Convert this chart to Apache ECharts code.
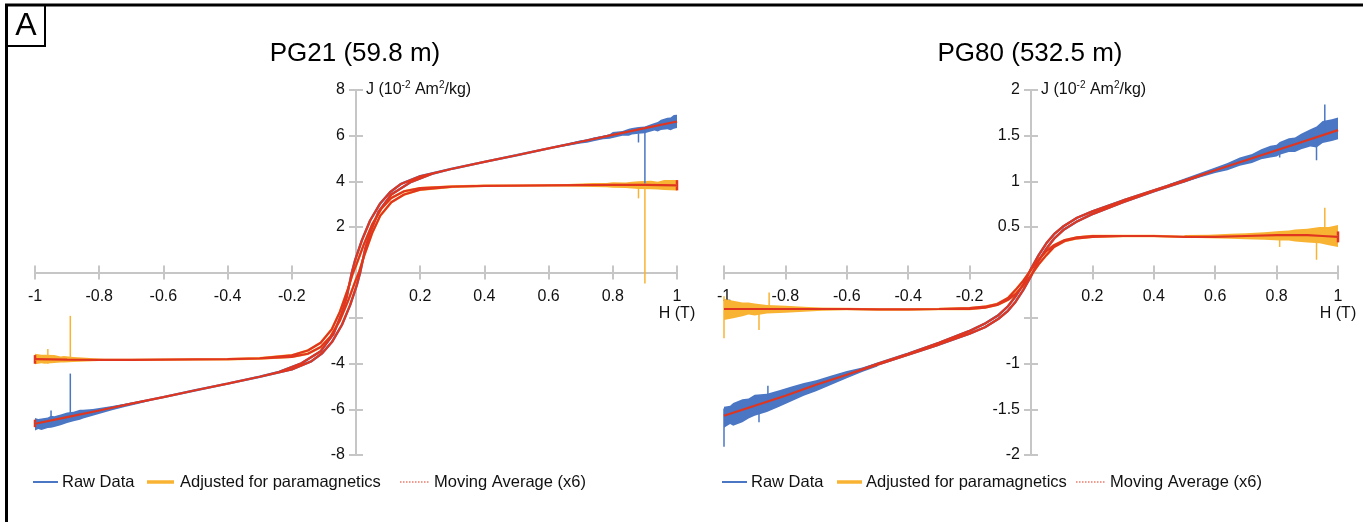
<!DOCTYPE html>
<html>
<head>
<meta charset="utf-8">
<script src="https://cdn.jsdelivr.net/npm/echarts@6/dist/echarts.min.js"></script>
<style>
  html, body { margin: 0; padding: 0; background: #fff; }
  #chart { width: 1363px; height: 522px; }
</style>
</head>
<body>
<div id="chart"></div>
<script>
// ---- labels ----
const panelTitles = ['PG21 (59.8 m)', 'PG80 (532.5 m)'];
const seriesNames = ['Raw Data', 'Adjusted for paramagnetics', 'Moving Average (x6)'];
const xAxisTitle = 'H (T)';
const yAxisTitle = 'J (10{sup|-2} Am{sup|2}/kg)';
const xScale = [-1, 1, 0.2];                 // min, max, step
const yScales = [[-8, 8, 2], [-2, 2, 0.5]];  // per panel
const yLabelsOmitted = [[0, -2], [0, -0.5]];

// ---- PG21 loop: [H (T), J (1e-2 Am2/kg)] ----
const pg21RawDown = [[1.0,6.62],[0.9,6.33],[0.8,6.03],[0.7,5.73],[0.6,5.44],[0.5,5.14],[0.4,4.85],[0.3,4.55],[0.2,4.22],[0.14,3.88],[0.106,3.52],[0.075,3.02],[0.044,2.28],[0.018,1.4],[-0.003,0.53],[-0.013,0],[-0.029,-1.08],[-0.045,-1.81],[-0.07,-2.69],[-0.11,-3.45],[-0.17,-3.98],[-0.24,-4.36],[-0.3,-4.57],[-0.4,-4.87],[-0.5,-5.16],[-0.6,-5.46],[-0.7,-5.75],[-0.8,-6.05],[-0.9,-6.34],[-1.0,-6.63]];
const pg21RawUp = [[-1.0,-6.63],[-0.9,-6.34],[-0.8,-6.05],[-0.7,-5.75],[-0.6,-5.46],[-0.5,-5.16],[-0.4,-4.87],[-0.3,-4.57],[-0.2,-4.25],[-0.14,-3.9],[-0.106,-3.55],[-0.075,-3.05],[-0.044,-2.3],[-0.018,-1.42],[0.003,-0.53],[0.013,0],[0.029,1.06],[0.045,1.78],[0.07,2.66],[0.11,3.42],[0.17,3.96],[0.24,4.34],[0.3,4.55],[0.4,4.85],[0.5,5.14],[0.6,5.44],[0.7,5.73],[0.8,6.03],[0.9,6.33],[1.0,6.62]];
const pg21AdjDown = [[1.0,3.82],[0.9,3.84],[0.8,3.84],[0.7,3.83],[0.6,3.82],[0.5,3.81],[0.4,3.8],[0.3,3.77],[0.2,3.7],[0.15,3.56],[0.11,3.27],[0.08,2.82],[0.05,2.1],[0.025,1.25],[0.0,0.3],[-0.009,0],[-0.025,-0.72],[-0.05,-1.72],[-0.075,-2.48],[-0.11,-3.08],[-0.15,-3.42],[-0.2,-3.63],[-0.3,-3.76],[-0.4,-3.8],[-0.5,-3.81],[-0.6,-3.82],[-0.7,-3.83],[-0.8,-3.83],[-0.9,-3.82],[-1.0,-3.8]];
const pg21AdjUp = [[-1.0,-3.8],[-0.9,-3.82],[-0.8,-3.83],[-0.7,-3.83],[-0.6,-3.82],[-0.5,-3.81],[-0.4,-3.8],[-0.3,-3.77],[-0.2,-3.7],[-0.15,-3.56],[-0.11,-3.27],[-0.08,-2.82],[-0.05,-2.1],[-0.025,-1.25],[0.0,-0.3],[0.009,0],[0.025,0.72],[0.05,1.72],[0.075,2.48],[0.11,3.08],[0.15,3.42],[0.2,3.63],[0.3,3.76],[0.4,3.8],[0.5,3.81],[0.6,3.82],[0.7,3.83],[0.8,3.84],[0.9,3.84],[1.0,3.82]];
// measurement scatter envelopes: [H, low J, high J]
const pg21RawScatterPos = [[0.62,5.47,5.53],[0.66,5.56,5.66],[0.7,5.66,5.8],[0.72,5.69,5.82],[0.74,5.75,5.92],[0.77,5.84,6.0],[0.79,5.86,6.06],[0.8,5.9,6.16],[0.83,6.0,6.2],[0.85,6.0,6.3],[0.86,6.05,6.33],[0.88,6.08,6.38],[0.9,6.1,6.4],[0.91,6.15,6.46],[0.93,6.22,6.55],[0.94,6.18,6.6],[0.95,6.25,6.7],[0.97,6.28,6.78],[0.98,6.24,6.8],[0.99,6.3,6.9],[1.0,6.33,6.92]];
const pg21RawScatterNeg = [[-1.0,-6.93,-6.38],[-0.99,-6.86,-6.42],[-0.98,-6.9,-6.4],[-0.96,-6.82,-6.36],[-0.95,-6.8,-6.28],[-0.94,-6.77,-6.3],[-0.92,-6.7,-6.22],[-0.9,-6.6,-6.14],[-0.88,-6.52,-6.1],[-0.86,-6.46,-6.02],[-0.85,-6.4,-6.02],[-0.82,-6.28,-5.98],[-0.79,-6.16,-5.92],[-0.76,-6.04,-5.85],[-0.72,-5.9,-5.75],[-0.68,-5.76,-5.66],[-0.64,-5.62,-5.56]];
const pg21AdjScatterPos = [[0.6,3.79,3.85],[0.68,3.77,3.89],[0.74,3.75,3.92],[0.78,3.74,3.92],[0.8,3.72,3.96],[0.84,3.7,3.95],[0.86,3.68,3.98],[0.88,3.66,4.0],[0.92,3.65,4.02],[0.94,3.64,3.98],[0.96,3.62,4.05],[1.0,3.6,4.06]];
const pg21AdjScatterNeg = [[-1.0,-4.02,-3.56],[-0.98,-3.98,-3.6],[-0.97,-4.0,-3.6],[-0.94,-3.97,-3.62],[-0.92,-3.94,-3.68],[-0.91,-3.95,-3.66],[-0.88,-3.92,-3.7],[-0.84,-3.9,-3.74],[-0.8,-3.88,-3.78],[-0.76,-3.86,-3.8]];
// isolated outliers: [H, from J, to J]
const pg21RawOutliers = [[0.9,3.9,6.23],[0.88,5.7,6.1],[-0.89,-6.4,-4.43],[-0.95,-6.7,-6.05]];
const pg21AdjOutliers = [[0.9,-0.48,3.85],[0.88,3.25,3.8],[-0.89,-3.82,-1.9],[-0.96,-4.0,-3.35]];
const pg21AvgOutliers = [[1.0,3.6,4.05],[-1.0,-4.0,-3.62],[-1.0,-6.78,-6.45]];

// ---- PG80 loop ----
const pg80RawDown = [[1.0,1.56],[0.9,1.45],[0.8,1.34],[0.7,1.23],[0.6,1.12],[0.5,1.01],[0.4,0.9],[0.3,0.79],[0.2,0.67],[0.15,0.6],[0.107,0.51],[0.075,0.42],[0.05,0.32],[0.025,0.19],[0.0,0.04],[-0.006,0],[-0.025,-0.13],[-0.05,-0.26],[-0.075,-0.37],[-0.107,-0.47],[-0.15,-0.56],[-0.2,-0.64],[-0.3,-0.77],[-0.4,-0.89],[-0.5,-1.0],[-0.6,-1.12],[-0.7,-1.23],[-0.8,-1.35],[-0.9,-1.46],[-1.0,-1.57]];
const pg80RawUp = [[-1.0,-1.57],[-0.9,-1.46],[-0.8,-1.35],[-0.7,-1.23],[-0.6,-1.12],[-0.5,-1.01],[-0.4,-0.9],[-0.3,-0.79],[-0.2,-0.67],[-0.15,-0.6],[-0.107,-0.51],[-0.075,-0.42],[-0.05,-0.32],[-0.025,-0.19],[0.0,-0.04],[0.006,0],[0.025,0.13],[0.05,0.26],[0.075,0.37],[0.107,0.47],[0.15,0.56],[0.2,0.64],[0.3,0.77],[0.4,0.89],[0.5,1.0],[0.6,1.12],[0.7,1.23],[0.8,1.34],[0.9,1.45],[1.0,1.56]];
const pg80AdjDown = [[1.0,0.39],[0.95,0.4],[0.9,0.41],[0.8,0.41],[0.7,0.4],[0.6,0.39],[0.5,0.39],[0.4,0.4],[0.3,0.4],[0.2,0.4],[0.15,0.385],[0.11,0.355],[0.075,0.3],[0.05,0.235],[0.025,0.14],[0.0,0.03],[-0.006,0],[-0.025,-0.09],[-0.05,-0.19],[-0.075,-0.28],[-0.11,-0.345],[-0.15,-0.375],[-0.2,-0.39],[-0.3,-0.4],[-0.4,-0.405],[-0.5,-0.405],[-0.6,-0.4],[-0.7,-0.4],[-0.8,-0.4],[-0.9,-0.4],[-1.0,-0.4]];
const pg80AdjUp = [[-1.0,-0.4],[-0.9,-0.4],[-0.8,-0.4],[-0.7,-0.4],[-0.6,-0.4],[-0.5,-0.405],[-0.4,-0.405],[-0.3,-0.4],[-0.2,-0.4],[-0.15,-0.385],[-0.11,-0.355],[-0.075,-0.3],[-0.05,-0.235],[-0.025,-0.14],[0.0,-0.03],[0.006,0],[0.025,0.09],[0.05,0.19],[0.075,0.28],[0.11,0.345],[0.15,0.375],[0.2,0.39],[0.3,0.4],[0.4,0.4],[0.5,0.39],[0.6,0.39],[0.7,0.4],[0.8,0.41],[0.9,0.41],[0.95,0.4],[1.0,0.39]];
const pg80RawScatterPos = [[0.45,0.95,0.97],[0.5,0.99,1.03],[0.55,1.04,1.09],[0.6,1.09,1.15],[0.64,1.12,1.2],[0.68,1.17,1.26],[0.72,1.2,1.3],[0.75,1.24,1.35],[0.78,1.26,1.39],[0.8,1.27,1.4],[0.81,1.29,1.43],[0.84,1.32,1.47],[0.86,1.32,1.48],[0.88,1.35,1.52],[0.91,1.38,1.57],[0.93,1.37,1.6],[0.95,1.42,1.66],[0.98,1.44,1.68],[1.0,1.46,1.7]];
const pg80RawScatterNeg = [[-1.0,-1.7,-1.47],[-0.98,-1.66,-1.46],[-0.97,-1.68,-1.43],[-0.94,-1.64,-1.39],[-0.92,-1.6,-1.38],[-0.9,-1.57,-1.34],[-0.86,-1.53,-1.33],[-0.82,-1.47,-1.29],[-0.78,-1.41,-1.25],[-0.74,-1.35,-1.21],[-0.7,-1.3,-1.18],[-0.65,-1.23,-1.13],[-0.6,-1.16,-1.08],[-0.55,-1.09,-1.04],[-0.5,-1.03,-0.99]];
const pg80AdjScatterPos = [[0.5,0.38,0.41],[0.58,0.375,0.415],[0.65,0.37,0.425],[0.7,0.365,0.43],[0.76,0.36,0.44],[0.81,0.35,0.455],[0.84,0.35,0.46],[0.86,0.34,0.47],[0.9,0.33,0.48],[0.94,0.32,0.5],[0.97,0.3,0.5],[1.0,0.28,0.52]];
const pg80AdjScatterNeg = [[-1.0,-0.52,-0.29],[-0.97,-0.5,-0.31],[-0.94,-0.48,-0.33],[-0.92,-0.46,-0.33],[-0.9,-0.47,-0.34],[-0.86,-0.45,-0.355],[-0.8,-0.44,-0.365],[-0.74,-0.43,-0.375],[-0.68,-0.42,-0.385],[-0.6,-0.41,-0.39],[-0.5,-0.405,-0.395]];
const pg80RawOutliers = [[0.957,1.5,1.84],[0.93,1.23,1.45],[0.81,1.26,1.35],[-1.0,-1.91,-1.49],[-0.857,-1.45,-1.24],[-0.886,-1.64,-1.45]];
const pg80AdjOutliers = [[0.957,0.45,0.71],[0.93,0.14,0.38],[0.81,0.28,0.4],[-1.0,-0.72,-0.26],[-0.853,-0.4,-0.22],[-0.886,-0.63,-0.4]];
const pg80AvgOutliers = [[1.0,0.33,0.45]];

// ---- styling ----
const FONT = '"Liberation Sans", Arial, sans-serif';
const BLUE = '#4A76C4', ORANGE = '#F9B333', RED = '#E0361F', AXIS = '#C6C6C6', INK = '#111';

const panels = [
  { rawDown: pg21RawDown, rawUp: pg21RawUp, adjDown: pg21AdjDown, adjUp: pg21AdjUp,
    rawBands: [pg21RawScatterPos, pg21RawScatterNeg], adjBands: [pg21AdjScatterPos, pg21AdjScatterNeg],
    rawOut: pg21RawOutliers, adjOut: pg21AdjOutliers, avgOut: pg21AvgOutliers },
  { rawDown: pg80RawDown, rawUp: pg80RawUp, adjDown: pg80AdjDown, adjUp: pg80AdjUp,
    rawBands: [pg80RawScatterPos, pg80RawScatterNeg], adjBands: [pg80AdjScatterPos, pg80AdjScatterNeg],
    rawOut: pg80RawOutliers, adjOut: pg80AdjOutliers, avgOut: pg80AvgOutliers }
];

const CHART_W = 1363, CHART_H = 522;
const grids = [
  { left: 35, right: 686, top: 90, bottom: 67 },
  { left: 724, right: 25, top: 90, bottom: 67 }
];

function fmtNum(v) { return String(+v.toFixed(2)); }

// filled envelope between low and high J along H
function bandRender(color) {
  return function (params, api) {
    if (params.dataIndexInside !== 0) return null;
    const n = params.dataInsideLength;
    const lower = [], upper = [];
    for (let i = 0; i < n; i++) {
      const h = api.value(0, i);
      lower.push(api.coord([h, api.value(1, i)]));
      upper.unshift(api.coord([h, api.value(2, i)]));
    }
    return { type: 'polygon', shape: { points: lower.concat(upper) }, style: { fill: color } };
  };
}
// single vertical stroke from one J to another at fixed H
function strokeRender(color, width) {
  return function (params, api) {
    const a = api.coord([api.value(0), api.value(1)]);
    const b = api.coord([api.value(0), api.value(2)]);
    return { type: 'line', shape: { x1: a[0], y1: a[1], x2: b[0], y2: b[1] },
             style: { stroke: color, lineWidth: width } };
  };
}

const xAxes = [], yAxes = [], series = [];
panels.forEach((p, g) => {
  const [ymin, ymax, ystep] = yScales[g];
  const omit = yLabelsOmitted[g];
  const gr = grids[g];
  const gridW = CHART_W - gr.left - gr.right;
  const gridH = CHART_H - gr.top - gr.bottom;
  // both ranges are symmetric about zero, so the crossing axes sit mid-plot
  const xOffset = -gridH * (0 - ymin) / (ymax - ymin);
  const yOffset = -gridW * (0 - xScale[0]) / (xScale[1] - xScale[0]);
  const tickStyle = { color: AXIS, width: 2 };
  const xBase = { type: 'value', gridIndex: g, min: xScale[0], max: xScale[1], interval: xScale[2],
                  position: 'bottom', offset: xOffset, splitLine: { show: false } };
  const yBase = { type: 'value', gridIndex: g, min: ymin, max: ymax, interval: ystep,
                  position: 'left', offset: yOffset, splitLine: { show: false } };
  xAxes.push(Object.assign({}, xBase, {
    axisLine: { onZero: false, lineStyle: { color: AXIS, width: 2 } },
    axisTick: { show: true, length: 7, lineStyle: tickStyle },
    axisLabel: { fontSize: 16, fontFamily: FONT, color: INK, margin: 16, lineHeight: 17,
      formatter: v => Math.abs(v) < 1e-9 ? '' : (Math.abs(v - xScale[1]) < 1e-9 ? fmtNum(v) + '\n' + xAxisTitle : fmtNum(v)) }
  }));
  xAxes.push(Object.assign({}, xBase, {
    axisLine: { show: false, onZero: false },
    axisTick: { show: true, inside: true, length: 7, lineStyle: tickStyle },
    axisLabel: { show: false }
  }));
  yAxes.push(Object.assign({}, yBase, {
    axisLine: { onZero: false, lineStyle: { color: AXIS, width: 2 } },
    axisTick: { show: true, length: 7, lineStyle: tickStyle },
    axisLabel: { fontSize: 16, fontFamily: FONT, color: INK, margin: 11,
      formatter: v => omit.some(o => Math.abs(o - v) < 1e-9) ? '' : fmtNum(v) },
    name: yAxisTitle, nameLocation: 'end', nameGap: 0,
    nameTextStyle: { align: 'left', verticalAlign: 'middle', padding: [0, 0, 0, 10],
      fontSize: 16, fontFamily: FONT, color: INK,
      rich: { sup: { fontSize: 10, fontFamily: FONT, color: INK, padding: [0, 0, 9, 0] } } }
  }));
  yAxes.push(Object.assign({}, yBase, {
    axisLine: { show: false, onZero: false },
    axisTick: { show: true, inside: true, length: 7, lineStyle: tickStyle },
    axisLabel: { show: false }
  }));

  const xi = g * 2, yi = g * 2;
  const common = { xAxisIndex: xi, yAxisIndex: yi, silent: true, animation: false };
  p.rawBands.forEach(b => series.push(Object.assign({ type: 'custom', name: seriesNames[0], data: b, renderItem: bandRender(BLUE) }, common)));
  p.adjBands.forEach(b => series.push(Object.assign({ type: 'custom', name: seriesNames[1], data: b, renderItem: bandRender(ORANGE) }, common)));
  series.push(Object.assign({ type: 'custom', name: seriesNames[0], data: p.rawOut, renderItem: strokeRender(BLUE, 1.5) }, common));
  series.push(Object.assign({ type: 'custom', name: seriesNames[1], data: p.adjOut, renderItem: strokeRender(ORANGE, 1.5) }, common));
  const line = (name, data, color, width) => Object.assign({
    type: 'line', name, data, symbol: 'none', showSymbol: false,
    lineStyle: { color, width }, itemStyle: { color }
  }, common);
  series.push(line(seriesNames[0], p.rawDown.concat(p.rawUp), BLUE, 2.4));
  series.push(line(seriesNames[1], p.adjDown.concat(p.adjUp), ORANGE, 2.4));
  series.push(line(seriesNames[2], p.rawDown.concat(p.rawUp), RED, 2.2));
  series.push(line(seriesNames[2], p.adjDown.concat(p.adjUp), RED, 2.2));
  series.push(Object.assign({ type: 'custom', name: seriesNames[2], data: p.avgOut, renderItem: strokeRender(RED, 2.5) }, common));
});

// legend rows under each panel
const legendRows = [
  [{ x0: 33, x1: 58, tx: 62 }, { x0: 147, x1: 174, tx: 180 }, { x0: 400, x1: 430, tx: 434 }],
  [{ x0: 722, x1: 747, tx: 751 }, { x0: 837, x1: 862, tx: 866 }, { x0: 1076, x1: 1106, tx: 1110 }]
];
const legendStrokes = [
  { stroke: BLUE, lineWidth: 2 },
  { stroke: ORANGE, lineWidth: 3.5 },
  { stroke: RED, lineWidth: 1, lineDash: [1.5, 1.5] }
];
const LEGEND_Y = 482;
const graphics = [
  { type: 'rect', shape: { x: 6.5, y: 5, width: 1400, height: 600 }, style: { fill: 'none', stroke: '#000', lineWidth: 3 } },
  { type: 'rect', shape: { x: 6.5, y: 5, width: 38.5, height: 41 }, style: { fill: 'none', stroke: '#000', lineWidth: 2 } },
  { type: 'text', x: 26, y: 26, style: { text: 'A', fontSize: 32, fontFamily: FONT, fill: '#000', align: 'center', verticalAlign: 'middle' } }
];
legendRows.forEach(row => row.forEach((it, k) => {
  graphics.push({ type: 'line', shape: { x1: it.x0, y1: LEGEND_Y, x2: it.x1, y2: LEGEND_Y }, style: Object.assign({}, legendStrokes[k]) });
  graphics.push({ type: 'text', x: it.tx, y: LEGEND_Y, style: { text: seriesNames[k], fontSize: 16.5, fontFamily: FONT, fill: INK, align: 'left', verticalAlign: 'middle' } });
}));

const chart = echarts.init(document.getElementById('chart'), null, { renderer: 'canvas' });
chart.setOption({
  animation: false,
  backgroundColor: '#fff',
  title: [
    { text: panelTitles[0], left: 355, top: 41, padding: 0, textAlign: 'center',
      textStyle: { fontSize: 26, fontWeight: 'normal', fontFamily: FONT, color: '#000' } },
    { text: panelTitles[1], left: 1030, top: 41, padding: 0, textAlign: 'center',
      textStyle: { fontSize: 26, fontWeight: 'normal', fontFamily: FONT, color: '#000' } }
  ],
  grid: grids,
  xAxis: xAxes,
  yAxis: yAxes,
  series: series,
  graphic: graphics
});
</script>
</body>
</html>
